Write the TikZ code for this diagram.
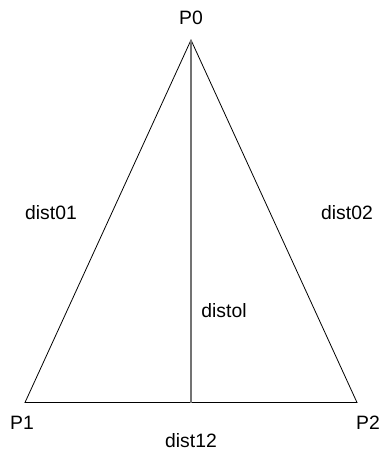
\documentclass[tikz,border=0pt]{standalone}
\usepackage{fontspec}
\setmainfont{Liberation Sans}
\begin{document}
\begin{tikzpicture}[x=0.75pt,y=-0.75pt,
  lbl/.style={font=\fontsize{14.5}{17}\selectfont, inner sep=0pt, anchor=center},
  edge/.style={draw=black, line width=0.6pt},
  height/.style={draw=black!55, line width=1pt}]
\useasboundingbox (0,0) rectangle (382,455);
\coordinate (v0) at (191,40);
\coordinate (v1) at (25,402.5);
\coordinate (v2) at (357,402.5);
\coordinate (foot) at (191,402.5);
\draw[edge] (v0) -- (v1) -- (v2) -- cycle;
\draw[height] (v0) -- (foot);
\node[lbl] (p0) at (191,18) {P0};
\node[lbl] (p1) at (22,423) {P1};
\node[lbl] (p2) at (368,423) {P2};
\node[lbl] (d01) at (51,213) {dist01};
\node[lbl] (d02) at (347,213) {dist02};
\node[lbl] (dol) at (224,311) {distol};
\node[lbl] (d12) at (191,441) {dist12};
\end{tikzpicture}
\end{document}
